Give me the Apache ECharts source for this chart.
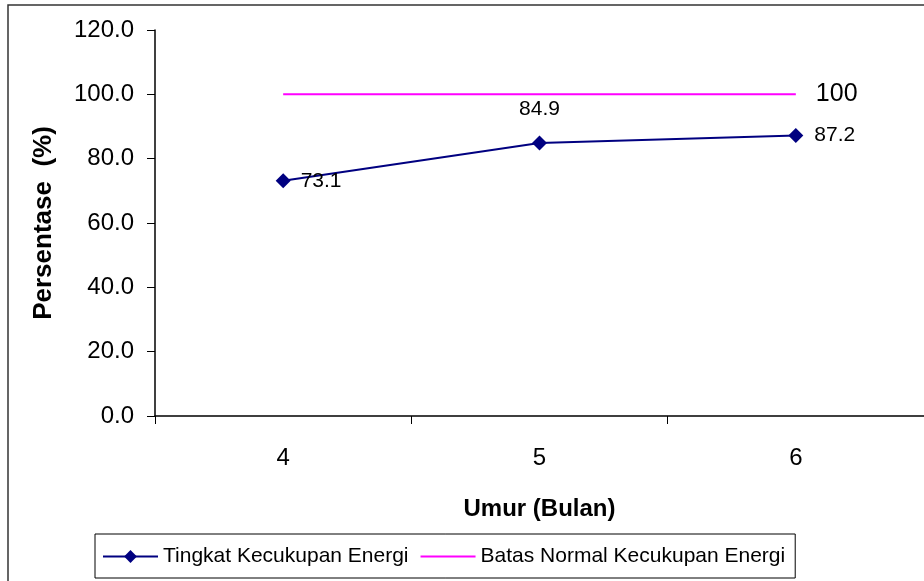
<!DOCTYPE html>
<html>
<head>
<meta charset="utf-8">
<script src="https://cdn.jsdelivr.net/npm/echarts@6/dist/echarts.min.js"></script>
<style>
  html, body { margin: 0; padding: 0; background: #fff; }
  #chart { width: 924px; height: 581px; }
</style>
</head>
<body>
<div id="chart"></div>
<script>
// Age in months and energy adequacy (%)
const months = ['4', '5', '6'];
const energyLevel = [73.1, 84.9, 87.2];
const normalLimit = [100, 100, 100];
const seriesNames = ['Tingkat Kecukupan Energi', 'Batas Normal Kecukupan Energi'];

const FONT = '"Liberation Sans", Arial, sans-serif';

const chart = echarts.init(document.getElementById('chart'), null, { renderer: 'canvas' });

// Per-point label placement for the energy series
const labelPos = ['right', 'top', 'right'];
const labelDist = [10, 16, 11];

chart.setOption({
  animation: false,
  backgroundColor: '#fff',
  textStyle: { fontFamily: FONT, color: '#000' },
  graphic: [{
    type: 'rect',
    shape: { x: 8, y: 5, width: 930, height: 590 },
    style: { fill: 'none', stroke: '#333', lineWidth: 1.5 },
    silent: true
  }],
  grid: { left: 155, right: -3, top: 30, bottom: 165, containLabel: false },
  legend: {
    left: 95,
    top: 534,
    padding: [12, 10, 11, 7],
    itemWidth: 55,
    itemHeight: 16,
    itemGap: 11,
    borderColor: '#000',
    borderWidth: 1,
    textStyle: { fontFamily: FONT, fontSize: 21, color: '#000' },
    data: seriesNames
  },
  xAxis: {
    type: 'category',
    data: months,
    boundaryGap: true,
    name: 'Umur (Bulan)',
    nameLocation: 'middle',
    nameGap: 81,
    nameTextStyle: { fontFamily: FONT, fontSize: 24, fontWeight: 'bold', color: '#000' },
    axisLine: { lineStyle: { color: '#000', width: 1.5 } },
    axisTick: { show: true, inside: false, length: 8, alignWithLabel: false, lineStyle: { color: '#000' } },
    axisLabel: { fontFamily: FONT, fontSize: 24, color: '#000', margin: 30 },
    splitLine: { show: false }
  },
  yAxis: {
    type: 'value',
    min: 0,
    max: 120,
    interval: 20,
    name: 'Persentase  (%)',
    nameLocation: 'middle',
    nameGap: 98,
    nameRotate: 90,
    nameTextStyle: { fontFamily: FONT, fontSize: 26, fontWeight: 'bold', color: '#000' },
    axisLine: { show: true, lineStyle: { color: '#000', width: 1.5 } },
    axisTick: { show: true, length: 8, lineStyle: { color: '#000' } },
    axisLabel: {
      fontFamily: FONT, fontSize: 24, color: '#000', margin: 21,
      formatter: v => v.toFixed(1)
    },
    splitLine: { show: false }
  },
  series: [
    {
      name: seriesNames[0],
      type: 'line',
      data: energyLevel.map((v, i) => ({
        value: v,
        label: { position: labelPos[i], distance: labelDist[i] }
      })),
      symbol: 'diamond',
      symbolSize: 15,
      itemStyle: { color: '#000080' },
      lineStyle: { color: '#000080', width: 2 },
      label: {
        show: true,
        fontFamily: FONT,
        fontSize: 21,
        color: '#000',
        formatter: p => p.value.toFixed(1)
      },
      z: 3
    },
    {
      name: seriesNames[1],
      type: 'line',
      data: normalLimit,
      symbol: 'none',
      showSymbol: false,
      // plain line, no marker (also keeps the legend key marker-free)
      itemStyle: { color: '#FF00FF', opacity: 0 },
      lineStyle: { color: '#FF00FF', width: 2, opacity: 1 },
      endLabel: {
        show: true,
        distance: 20,
        fontFamily: FONT,
        fontSize: 25,
        color: '#000',
        formatter: p => String(p.value)
      },
      z: 2
    }
  ]
});
</script>
</body>
</html>
